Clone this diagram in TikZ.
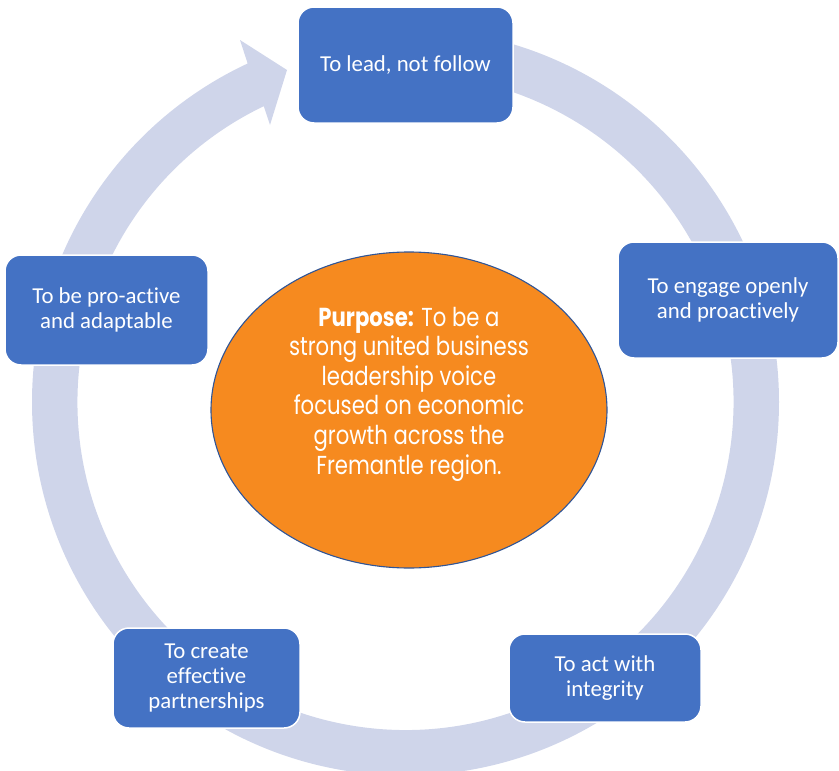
\documentclass[tikz,border=0pt]{standalone}
\usepackage{fontspec}
\setmainfont[Ligatures=NoCommon]{Carlito}
\newfontfamily\purposefont[FakeStretch=0.815]{Poppins}
\usetikzlibrary{shapes.geometric}

\definecolor{ringlav}{HTML}{CFD5EA}
\definecolor{boxblue}{HTML}{4472C4}
\definecolor{purposeorange}{HTML}{F68A1F}
\definecolor{ellipseedge}{HTML}{2F5597}

\tikzset{
  valuebox/.style={
    rectangle, rounded corners=16pt, fill=boxblue, draw=white,
    line width=1.5pt, text=white, align=center, inner sep=0pt,
    font=\fontsize{22.8}{25}\selectfont
  },
  purposeoval/.style={
    ellipse, fill=purposeorange, draw=ellipseedge, line width=1.1pt,
    inner sep=0pt
  },
  purposetext/.style={
    text=white, align=center, inner sep=0pt,
    font=\purposefont\fontsize{26}{29.6}\selectfont
  }
}

\begin{document}
\begin{tikzpicture}[x=1pt,y=1pt]
  \useasboundingbox (0,0) rectangle (839,-771);
  \begin{scope}
    \clip (0,0) rectangle (839,-771);
    % circular arrow running clockwise around the centre
    \coordinate (c) at (405.5,-402);
    \fill[ringlav]
      ([shift={(c)}]90:373.5) arc[start angle=90, end angle=-245, radius=373.5]
      -- (240,-40) -- (287,-70) -- (270,-125)
      -- ([shift={(c)}]-244.4:328) arc[start angle=-244.4, end angle=90, radius=328]
      -- cycle;
  \end{scope}

  % value boxes around the cycle
  \node[valuebox, minimum width=215pt, minimum height=116pt] (lead) at (405.5,-65)
    {To lead, not follow};
  \node[valuebox, minimum width=220pt, minimum height=116pt] (engage) at (728,-300)
    {To engage openly\\and proactively};
  \node[valuebox, minimum width=192pt, minimum height=88pt] (integrity) at (605,-678)
    {To act with\\integrity};
  \node[valuebox, minimum width=187pt, minimum height=100pt] (partner) at (206.5,-678)
    {To create\\effective\\partnerships};
  \node[valuebox, minimum width=203pt, minimum height=110pt] (adapt) at (106.5,-310)
    {To be pro-active\\and adaptable};

  % central purpose statement
  \node[purposeoval, minimum width=396pt, minimum height=316pt] (purpose) at (409,-410) {};
  \node[purposetext] (purposetxt) at (409,-394)
    {\textbf{Purpose:} To be a\\strong united business\\leadership voice\\focused on economic\\growth across the\\Fremantle region.};
\end{tikzpicture}
\end{document}
